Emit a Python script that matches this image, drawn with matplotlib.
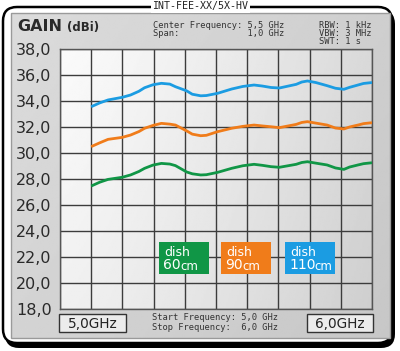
import numpy as np
import matplotlib
matplotlib.use('Agg')
import matplotlib.pyplot as plt
from matplotlib.patches import FancyBboxPatch, Rectangle

#===============================================================================
# Data
#===============================================================================

freq_ghz = [5.00, 5.03, 5.06, 5.11, 5.14, 5.17, 5.19, 5.22, 5.25, 5.28, 5.30,
            5.34, 5.36, 5.39, 5.41, 5.45, 5.50, 5.54, 5.58, 5.61, 5.64, 5.67,
            5.73, 5.75, 5.77, 5.80, 5.84, 5.87, 5.90, 5.92, 5.95, 5.97, 6.00]

gain_60 = [27.46, 27.75, 27.97, 28.13, 28.31, 28.58, 28.82, 29.07, 29.20, 29.15,
           29.03, 28.54, 28.40, 28.31, 28.33, 28.51, 28.82, 29.02, 29.13, 29.05,
           28.95, 28.90, 29.13, 29.27, 29.33, 29.22, 29.08, 28.85, 28.74, 28.92,
           29.08, 29.18, 29.25]
gain_90 = [30.49, 30.78, 31.05, 31.20, 31.38, 31.65, 31.90, 32.12, 32.28, 32.22,
           32.15, 31.70, 31.45, 31.33, 31.36, 31.64, 31.90, 32.05, 32.15, 32.08,
           32.02, 31.95, 32.20, 32.35, 32.41, 32.30, 32.15, 31.92, 31.85, 32.00,
           32.15, 32.26, 32.33]
gain_110 = [33.56, 33.85, 34.08, 34.28, 34.46, 34.75, 35.02, 35.25, 35.36, 35.30,
            35.10, 34.78, 34.52, 34.40, 34.42, 34.59, 34.92, 35.12, 35.23, 35.15,
            35.04, 35.00, 35.28, 35.46, 35.54, 35.42, 35.18, 34.98, 34.90, 35.05,
            35.23, 35.35, 35.42]

dish_labels = ['60', '90', '110']
colors = ['#109646', '#f07c1a', '#1b9ce2']

y_ticks = [18, 20, 22, 24, 26, 28, 30, 32, 34, 36, 38]

title = 'INT-FEE-XX/5X-HV'
start_ghz, stop_ghz = 5.0, 6.0

#===============================================================================
# Figure
#===============================================================================

W, H = 400, 351
fig = plt.figure(figsize=(W / 100, H / 100), dpi=100)

def pixel_axes(z):
    """Full-figure axes in pixel coordinates (y downwards)."""
    a = fig.add_axes([0, 0, 1, 1], zorder=z)
    a.set_xlim(0, W)
    a.set_ylim(H, 0)
    a.axis('off')
    a.patch.set_alpha(0)
    return a

bg = pixel_axes(0)

# outer black rounded frame (with heavier shadow at right/bottom)
bg.add_patch(FancyBboxPatch((5, 10), W - 10, H - 13,
                            boxstyle='round,pad=0,rounding_size=14',
                            fc='black', ec='none', zorder=0))
bg.add_patch(FancyBboxPatch((3, 7), W - 11, H - 15,
                            boxstyle='round,pad=0,rounding_size=14',
                            fc='white', ec='black', lw=1.8, zorder=0.5))

# grey panel with soft gradient
gx = np.linspace(0, 1, 200)
GX, GY = np.meshgrid(gx, gx)
panel = 0.86 - 0.05 * GX - 0.03 * GY
bg.imshow(panel, extent=(11, 390, 338, 13), cmap='gray', vmin=0, vmax=1,
          aspect='auto', zorder=1)
bg.add_patch(Rectangle((11, 13), 379, 325, fc='none', ec='#9a9a9a',
                       lw=1.0, zorder=1.2))

# title tab on top of the border
bg.text(200, 6, title, ha='center', va='center', fontsize=7.2,
        family='DejaVu Sans Mono', color='#222222', zorder=3,
        bbox=dict(boxstyle='square,pad=0.15', fc='white', ec='none'))

# header
bg.text(17, 31, 'GAIN', fontsize=11.5, fontweight='bold', color='#2a2a2a',
        va='baseline', zorder=3)
bg.text(67, 31, '(dBi)', fontsize=8.5, fontweight='bold', color='#2a2a2a',
        va='baseline', zorder=3)

mono = dict(family='DejaVu Sans Mono', fontsize=6.3, color='#333333',
            va='center', zorder=3)
bg.text(153, 25, 'Center Frequency: 5,5 GHz', **mono)
bg.text(153, 33, 'Span:             1,0 GHz', **mono)
bg.text(319, 25, 'RBW: 1 kHz', **mono)
bg.text(319, 33.5, 'VBW: 3 MHz', **mono)
bg.text(319, 42, 'SWT: 1 s', **mono)
bg.text(152, 318, 'Start Frequency: {:.1f} GHz'.format(start_ghz).replace('.', ','), **mono)
bg.text(152, 327, 'Stop Frequency:  {:.1f} GHz'.format(stop_ghz).replace('.', ','), **mono)

# frequency boxes
for x0, x1, f in [(59, 126, start_ghz), (307, 373, stop_ghz)]:
    bg.add_patch(Rectangle((x0, 314), x1 - x0, 18, fc='#ececec',
                           ec='#333333', lw=1.0, zorder=3))
    bg.text((x0 + x1) / 2, 323.5, '{:.1f}GHz'.format(f).replace('.', ','),
            ha='center', va='center', fontsize=9.8, color='#222222',
            zorder=4)

#===============================================================================
# Plot area
#===============================================================================

ax = fig.add_axes([60 / W, 1 - 309 / H, 312 / W, 260 / H], zorder=1)
x_lo = start_ghz - (stop_ghz - start_ghz) / 9
ax.set_xlim(x_lo, stop_ghz)
ax.set_ylim(y_ticks[0], y_ticks[-1])

# plot-area gradient: light at top-left, darker to the right
px = np.linspace(0, 1, 200)
PX, PY = np.meshgrid(px, px)
shade = 0.98 - 0.13 * PX ** 1.3 - 0.04 * PY
ax.imshow(shade, extent=(x_lo, stop_ghz, y_ticks[0], y_ticks[-1]),
          cmap='gray', vmin=0, vmax=1, aspect='auto', zorder=0)

ax.set_xticks(np.linspace(x_lo, stop_ghz, 11))
ax.set_yticks(y_ticks)
ax.set_xticklabels([])
ax.set_yticklabels(['{:.1f}'.format(v).replace('.', ',') for v in y_ticks],
                   fontsize=11.5, color='#2a2a2a')
ax.tick_params(length=0, pad=6)
ax.grid(True, color='#3c3c3c', lw=1.0)
for s in ax.spines.values():
    s.set_color('#555555')
    s.set_linewidth(1.0)

for g, c in zip([gain_60, gain_90, gain_110], colors):
    ax.plot(freq_ghz, g, color=c, lw=2.0, solid_joinstyle='round',
            solid_capstyle='butt', zorder=3)

#===============================================================================
# Legend tiles (overlay)
#===============================================================================

fg = pixel_axes(2)
for (x0, lab, c, cm_dx) in [(159, dish_labels[0], colors[0], 17),
                            (221, dish_labels[1], colors[1], 17),
                            (285, dish_labels[2], colors[2], 25)]:
    fg.add_patch(Rectangle((x0, 242), 50, 32, fc=c, ec='none'))
    fg.text(x0 + 5, 252.5, 'dish', fontsize=9, color='white', va='center')
    fg.text(x0 + 4, 265, lab, fontsize=10, color='white', va='center')
    fg.text(x0 + 4 + cm_dx, 266, 'cm', fontsize=8.5, color='white',
            va='center')

fig.savefig('out.png', dpi=100)
